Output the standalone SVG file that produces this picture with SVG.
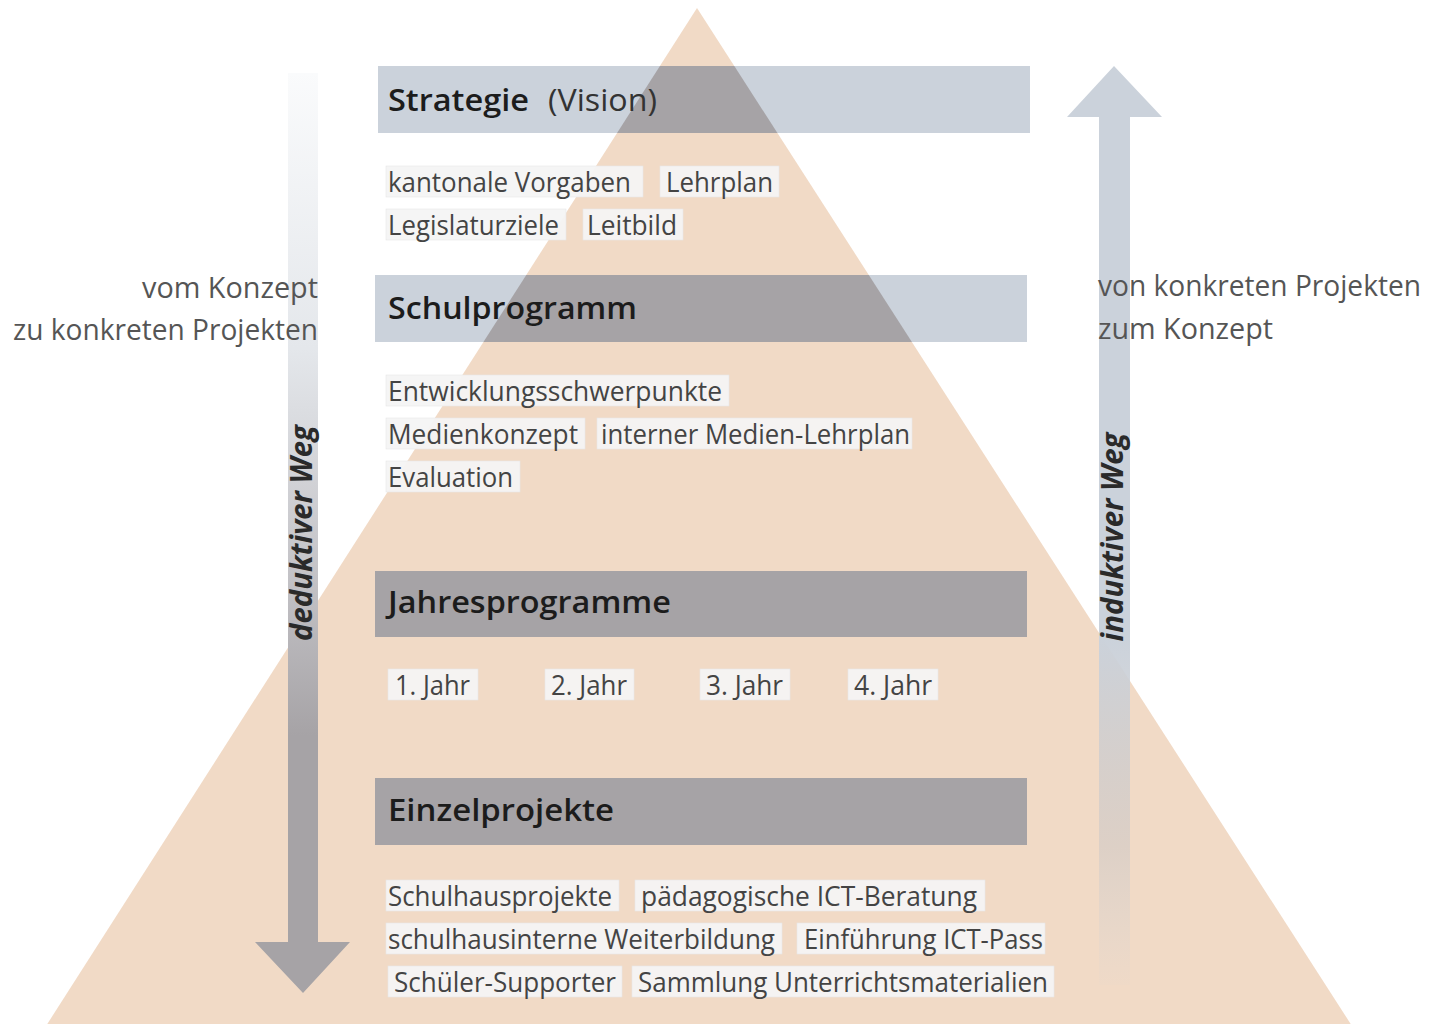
<svg xmlns="http://www.w3.org/2000/svg" width="1430" height="1024" viewBox="0 0 1430 1024">
<defs>
<style>
.title{font-family:"Open Sans","Liberation Sans",sans-serif;font-weight:600;font-size:31px;fill:#1c1c1c}
.sub{font-family:"Open Sans","Liberation Sans",sans-serif;font-weight:400;font-size:31px;fill:#333}
.item{font-family:"Open Sans","Liberation Sans",sans-serif;font-weight:400;font-size:28px;fill:#444}
.box{fill:#f4f4f4;fill-opacity:0.95;stroke:#e6e6e6;stroke-width:0.6}
.side{font-family:"Open Sans","Liberation Sans",sans-serif;font-weight:400;font-size:29px;fill:#555}
.rot{font-family:"Open Sans","Liberation Sans",sans-serif;font-weight:700;font-style:italic;font-size:30px;fill:#2a2a2a}
.barL{fill:#cbd2db}
.barD{fill:#a6a3a6}
</style>
<linearGradient id="gDown" gradientUnits="userSpaceOnUse" x1="0" y1="73" x2="0" y2="993">
<stop offset="0" stop-color="#fafbfc"/>
<stop offset="0.3" stop-color="#e4e7eb"/>
<stop offset="0.55" stop-color="#c3c2c6"/>
<stop offset="0.72" stop-color="#a6a3a6"/>
<stop offset="1" stop-color="#a6a3a6"/>
</linearGradient>
<linearGradient id="gUp" gradientUnits="userSpaceOnUse" x1="0" y1="66" x2="0" y2="985">
<stop offset="0" stop-color="#cbd2db" stop-opacity="1"/>
<stop offset="0.62" stop-color="#cbd2db" stop-opacity="1"/>
<stop offset="0.85" stop-color="#c9c6c6" stop-opacity="0.5"/>
<stop offset="1" stop-color="#cbd2db" stop-opacity="0.05"/>
</linearGradient>
<clipPath id="topBars">
<rect x="378" y="66" width="652" height="67"/>
<rect x="375" y="275" width="652" height="67"/>
</clipPath>
</defs>
<rect width="1430" height="1024" fill="#ffffff"/>
<g id="pyramid">
<polygon points="697,8 46,1026 1352,1026" fill="#f1dac6"/>
</g>

<g id="strategie">
<rect class="barL" x="378" y="66" width="652" height="67"/>
</g>
<g id="schulprogramm">
<rect class="barL" x="375" y="275" width="652" height="67"/>
</g>
<g id="overlap">
<polygon points="697,8 46,1026 1352,1026" class="barD" clip-path="url(#topBars)"/>
</g>
<g id="top-titles">
<text class="title" x="388" y="111" textLength="141" lengthAdjust="spacingAndGlyphs">Strategie</text>
<text class="sub" x="548" y="111" textLength="109" lengthAdjust="spacingAndGlyphs">(Vision)</text>
<text class="title" x="388" y="319" textLength="249" lengthAdjust="spacingAndGlyphs">Schulprogramm</text>
</g>

<g id="strategie-items">
<rect class="box" x="386" y="166" width="257" height="31"/>
<text class="item" x="388" y="192" textLength="243" lengthAdjust="spacingAndGlyphs">kantonale Vorgaben</text>
<rect class="box" x="660" y="166" width="119" height="31"/>
<text class="item" x="666" y="192" textLength="107" lengthAdjust="spacingAndGlyphs">Lehrplan</text>
<rect class="box" x="386" y="209" width="180" height="31"/>
<text class="item" x="388" y="235" textLength="171" lengthAdjust="spacingAndGlyphs">Legislaturziele</text>
<rect class="box" x="583" y="209" width="100" height="31"/>
<text class="item" x="587" y="235" textLength="90" lengthAdjust="spacingAndGlyphs">Leitbild</text>
</g>

<g id="schulprogramm-items">
<rect class="box" x="386" y="375" width="343" height="31"/>
<text class="item" x="388" y="401" textLength="334" lengthAdjust="spacingAndGlyphs">Entwicklungsschwerpunkte</text>
<rect class="box" x="386" y="418" width="199" height="31"/>
<text class="item" x="388" y="444" textLength="190" lengthAdjust="spacingAndGlyphs">Medienkonzept</text>
<rect class="box" x="597" y="418" width="315" height="31"/>
<text class="item" x="601" y="444" textLength="309" lengthAdjust="spacingAndGlyphs">interner Medien-Lehrplan</text>
<rect class="box" x="386" y="461" width="134" height="31"/>
<text class="item" x="388" y="487" textLength="125" lengthAdjust="spacingAndGlyphs">Evaluation</text>
</g>

<g id="jahresprogramme">
<rect class="barD" x="375" y="571" width="652" height="66"/>
<text class="title" x="388" y="613" textLength="283" lengthAdjust="spacingAndGlyphs">Jahresprogramme</text>
</g>
<g id="jahre">
<rect class="box" x="388" y="669" width="90" height="31"/>
<text class="item" x="395" y="695" textLength="75" lengthAdjust="spacingAndGlyphs">1. Jahr</text>
<rect class="box" x="545" y="669" width="89" height="31"/>
<text class="item" x="551" y="695" textLength="76" lengthAdjust="spacingAndGlyphs">2. Jahr</text>
<rect class="box" x="700" y="669" width="90" height="31"/>
<text class="item" x="706" y="695" textLength="77" lengthAdjust="spacingAndGlyphs">3. Jahr</text>
<rect class="box" x="848" y="669" width="90" height="31"/>
<text class="item" x="854" y="695" textLength="78" lengthAdjust="spacingAndGlyphs">4. Jahr</text>
</g>

<g id="einzelprojekte">
<rect class="barD" x="375" y="778" width="652" height="67"/>
<text class="title" x="388" y="821" textLength="226" lengthAdjust="spacingAndGlyphs">Einzelprojekte</text>
</g>
<g id="einzelprojekte-items">
<rect class="box" x="386" y="880" width="233" height="31"/>
<text class="item" x="388" y="906" textLength="224" lengthAdjust="spacingAndGlyphs">Schulhausprojekte</text>
<rect class="box" x="635" y="880" width="350" height="31"/>
<text class="item" x="641" y="906" textLength="336" lengthAdjust="spacingAndGlyphs">pädagogische ICT-Beratung</text>
<rect class="box" x="386" y="923" width="396" height="31"/>
<text class="item" x="388" y="949" textLength="387" lengthAdjust="spacingAndGlyphs">schulhausinterne Weiterbildung</text>
<rect class="box" x="797" y="923" width="248" height="31"/>
<text class="item" x="804" y="949" textLength="239" lengthAdjust="spacingAndGlyphs">Einführung ICT-Pass</text>
<rect class="box" x="388" y="966" width="234" height="31"/>
<text class="item" x="394" y="992" textLength="222" lengthAdjust="spacingAndGlyphs">Schüler-Supporter</text>
<rect class="box" x="632" y="966" width="422" height="31"/>
<text class="item" x="638" y="992" textLength="410" lengthAdjust="spacingAndGlyphs">Sammlung Unterrichtsmaterialien</text>
</g>

<g id="connectors">
<path d="M288,73 H318 V942 H350 L303,993 L255,942 H288 Z" fill="url(#gDown)"/>
<path d="M1114,66 L1162,117 H1130 V985 H1099 V117 H1067 Z" fill="url(#gUp)"/>
</g>

<g id="labels">
<text class="rot" transform="translate(312,533) rotate(-90)" text-anchor="middle" textLength="216" lengthAdjust="spacingAndGlyphs">deduktiver Weg</text>
<text class="rot" transform="translate(1123,537) rotate(-90)" text-anchor="middle" textLength="209" lengthAdjust="spacingAndGlyphs">induktiver Weg</text>
<text class="side" x="318" y="298" text-anchor="end" textLength="176" lengthAdjust="spacingAndGlyphs">vom Konzept</text>
<text class="side" x="318" y="340" text-anchor="end" textLength="305" lengthAdjust="spacingAndGlyphs">zu konkreten Projekten</text>
<text class="side" x="1098" y="296" textLength="323" lengthAdjust="spacingAndGlyphs">von konkreten Projekten</text>
<text class="side" x="1098" y="339" textLength="175" lengthAdjust="spacingAndGlyphs">zum Konzept</text>
</g>
</svg>
